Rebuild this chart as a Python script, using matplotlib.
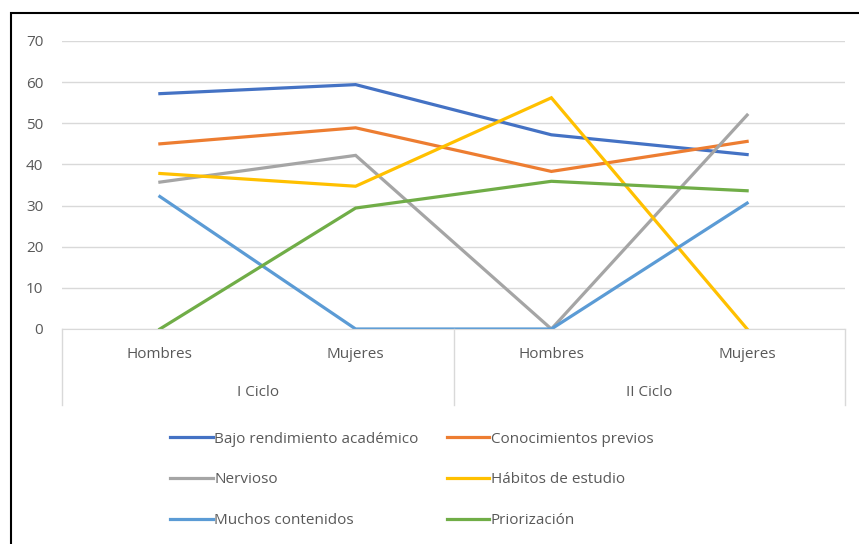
import numpy as np
import matplotlib
matplotlib.use("Agg")
import matplotlib.pyplot as plt
from matplotlib.patches import Rectangle
from matplotlib.transforms import blended_transform_factory

# datos
grupos = ["I Ciclo", "II Ciclo"]
sexos = ["Hombres", "Mujeres", "Hombres", "Mujeres"]
series = ["Bajo rendimiento académico", "Conocimientos previos", "Nervioso",
          "Hábitos de estudio", "Muchos contenidos", "Priorización"]
bajo_rendimiento = [57.2, 59.4, 47.2, 42.4]
conocimientos = [45.0, 48.9, 38.3, 45.6]
nervioso = [35.7, 42.2, 0, 52.0]
habitos = [37.8, 34.7, 56.2, 0]
contenidos = [32.2, 0, 0, 30.6]
priorizacion = [0, 29.4, 35.9, 33.6]
colores = ["#4472C4", "#ED7D31", "#A5A5A5", "#FFC000", "#5B9BD5", "#70AD47"]

plt.rcParams['font.family'] = ['Open Sans', 'DejaVu Sans']
fs = 11

fig = plt.figure(figsize=(8.59, 5.44), dpi=100)
ax = fig.add_axes([62/859, 1-329/544, (845-62)/859, (329-41)/544])

x = np.arange(len(sexos)) + 0.5
valores = [bajo_rendimiento, conocimientos, nervioso, habitos, contenidos, priorizacion]
lineas = []
for nombre, v, c in zip(series, valores, colores):
    l, = ax.plot(x, v, color=c, lw=2.3, label=nombre, solid_joinstyle='miter')
    lineas.append(l)

ax.set_xlim(0, 4)
ax.set_ylim(0, 70)
ax.set_yticks(range(0, 80, 10))
ax.yaxis.grid(True, color="#D9D9D9", lw=1)
ax.set_axisbelow(True)
for s in ["top", "right", "left"]:
    ax.spines[s].set_visible(False)
ax.spines["bottom"].set_color("#D9D9D9")
ax.tick_params(axis='y', length=0, pad=13.5, labelsize=fs, labelcolor="#595959")
ax.set_xticks([])

# eje de categorias de dos niveles
tr = blended_transform_factory(ax.transData, ax.transAxes)
fondo = -76/288
for xs in [0, 2, 4]:
    ax.plot([xs, xs], [0, fondo], transform=tr, color="#D9D9D9", lw=1, clip_on=False)
for xi, s in zip(x, sexos):
    ax.text(xi, -25/288, s, transform=tr, ha='center', va='center',
            fontsize=fs, color="#595959")
for i, g in enumerate(grupos):
    ax.text(2*i + 1, -64/288, g, transform=tr, ha='center', va='center',
            fontsize=fs, color="#595959")

# leyenda por filas como en Excel
orden = [0, 2, 4, 1, 3, 5]
fig.legend([lineas[i] for i in orden], [series[i] for i in orden],
           loc='upper left', bbox_to_anchor=(156/859, 1-418/544), ncol=2,
           frameon=False, fontsize=fs, handlelength=2.8, handletextpad=0.1,
           columnspacing=1.85, labelspacing=1.68, labelcolor="#595959")

fig.patches.append(Rectangle((11/859, -0.05), 1.0, 1-13/544+0.05,
                             transform=fig.transFigure, fill=False,
                             edgecolor='black', lw=1.5))

fig.savefig("out.png", dpi=100)
